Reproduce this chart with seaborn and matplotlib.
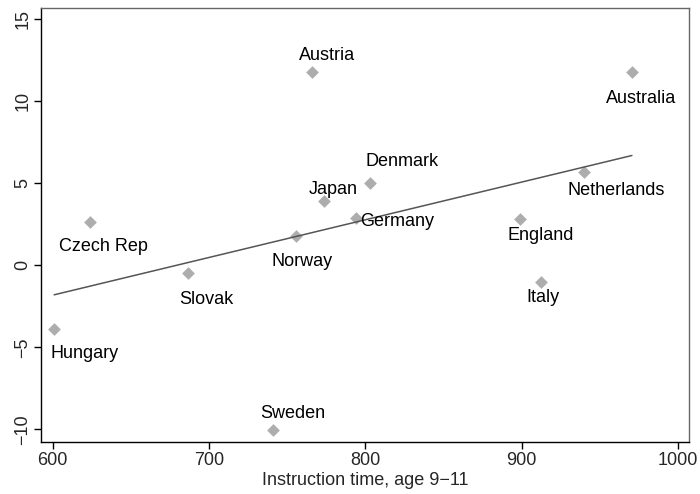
import numpy as np
import pandas as pd
import matplotlib
matplotlib.use("Agg")
import matplotlib.pyplot as plt
import seaborn as sns

# values
countries = ["Austria", "Czech Rep", "Norway", "Japan", "Australia", "Denmark",
             "Germany", "Netherlands", "England", "Slovak", "Hungary", "Sweden", "Italy"]
instruction_time = [765.7, 624.0, 755.6, 773.5, 970.6, 802.9,
                    793.8, 940.0, 898.8, 686.8, 601.0, 740.7, 912.2]
score_change = [11.77, 2.62, 1.81, 3.90, 11.78, 5.02,
                2.89, 5.69, 2.83, -0.46, -3.88, -10.05, -0.99]

df = pd.DataFrame({"country": countries, "time": instruction_time, "change": score_change})

# label offsets in pixels (dx right, dy down)
label_offsets = {
    "Austria": (15, -17), "Australia": (9, 27), "Denmark": (32, -21), "Japan": (9, -12),
    "Germany": (42, 4), "Netherlands": (32, 19), "England": (21, 17), "Czech Rep": (13, 24),
    "Norway": (6, 26), "Slovak": (18, 27), "Italy": (2, 16), "Hungary": (30, 24),
    "Sweden": (20, -17),
}

sns.set_style("ticks")
plt.rcParams["font.family"] = ["Liberation Sans", "DejaVu Sans"]

fig = plt.figure(figsize=(7, 4.94), dpi=100)
ax = fig.add_axes([0.0586, 0.105, 0.9254, 0.8788])

sns.regplot(data=df, x="time", y="change", ax=ax, ci=None, marker="D",
            scatter_kws={"color": "#999999", "s": 42, "linewidths": 0},
            line_kws={"color": "#555555", "linewidth": 1.1})

for _, r in df.iterrows():
    dx, dy = label_offsets[r["country"]]
    ax.annotate(r["country"], (r["time"], r["change"]), xytext=(dx, -dy),
                textcoords="offset pixels", ha="center", va="center",
                fontsize=13, color="black")

ax.set_xlim(592.6, 1007)
ax.set_ylim(-10.77, 15.67)
ax.set_xticks([600, 700, 800, 900, 1000])
ax.set_yticks([-10, -5, 0, 5, 10, 15])
ax.set_xlabel("Instruction time, age 9\u221211", fontsize=13, labelpad=2.5)
ax.set_ylabel("")
ax.tick_params(axis="both", labelsize=13, length=5, width=1, color="black", pad=2)
for lab in ax.get_yticklabels():
    lab.set_rotation(90)
    lab.set_va("center")

for side in ["left", "bottom"]:
    ax.spines[side].set_color("black")
    ax.spines[side].set_linewidth(1)
for side in ["top", "right"]:
    ax.spines[side].set_visible(True)
    ax.spines[side].set_color("#666666")
    ax.spines[side].set_linewidth(1)

fig.savefig("out.png", dpi=100)
